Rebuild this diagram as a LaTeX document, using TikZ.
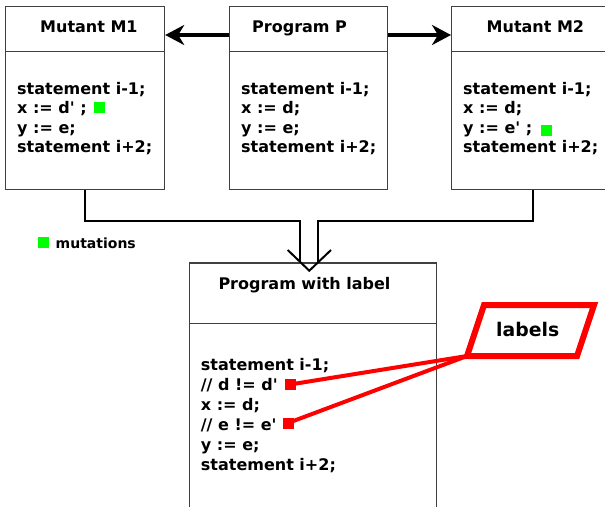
\documentclass[tikz,border=0pt]{standalone}
\usepackage{fontspec}
\newfontfamily\dv{DejaVu Sans}
\usetikzlibrary{arrows.meta}
\tikzset{
  box/.style={draw=black!75, line width=1.2pt, fill=white, rectangle, anchor=north west, inner sep=0pt},
  code/.style={font=\dv\bfseries\fontsize{16}{19}\selectfont, inner sep=0pt, anchor=base west},
  small/.style={font=\dv\bfseries\fontsize{14}{17}\selectfont, inner sep=0pt, anchor=base west},
  bigarrow/.style={line width=4.5pt, -{Stealth[length=19pt,width=20pt,inset=6pt]}},
  conn/.style={line width=2pt, black},
  mark/.style={}, 
  greensq/.style={fill=green, draw=none, minimum size=11pt, inner sep=0pt},
  redsq/.style={fill=red, draw=none, minimum size=11pt, inner sep=0pt},
  redline/.style={draw=red, line width=4pt},
}
\newcommand\codeln[4]{\node[code] (#1) at (#2,#3) {#4};}
\begin{document}
\begin{tikzpicture}[x=1pt,y=-1pt]
\useasboundingbox (0,0) rectangle (605,506);
% boxes
\node[box, minimum width=159pt, minimum height=183pt] (m1) at (5,6) {};
\node[box, minimum width=158pt, minimum height=183pt] (p) at (229,6) {};
\node[box, minimum width=162pt, minimum height=183pt] (m2) at (451,6) {};
\node[box, minimum width=247pt, minimum height=260pt] (out) at (189,262.3) {};
\draw[draw=black!75, line width=1.2pt] (5,51.5) -- (164,51.5);
\draw[draw=black!75, line width=1.2pt] (229,51.5) -- (387,51.5);
\draw[draw=black!75, line width=1.2pt] (451,51.5) -- (613,51.5);
\draw[draw=black!75, line width=1.2pt] (189,323.3) -- (436,323.3);
% titles
\codeln{t1}{40}{32}{Mutant M1}
\codeln{t2}{252}{32}{Program P}
\codeln{t3}{486.5}{32}{Mutant M2}
\codeln{t4}{218.3}{289.3}{Program with label}
% M1 code
\codeln{a1}{17}{94}{statement i-1;}
\codeln{a2}{17}{113.5}{x := d' ;}
\codeln{a3}{17}{133}{y := e;}
\codeln{a4}{17}{152.5}{statement i+2;}
% P code
\codeln{b1}{241}{94}{statement i-1;}
\codeln{b2}{241}{113.5}{x := d;}
\codeln{b3}{241}{133}{y := e;}
\codeln{b4}{241}{152.5}{statement i+2;}
% M2 code
\codeln{c1}{463}{94}{statement i-1;}
\codeln{c2}{463}{113.5}{x := d;}
\codeln{c3}{463}{133}{y := e' ;}
\codeln{c4}{463}{152.5}{statement i+2;}
% output code
\codeln{d1}{200.7}{370}{statement i-1;}
\codeln{d2}{200.7}{390}{// d != d'}
\codeln{d3}{200.7}{410}{x := d;}
\codeln{d4}{200.7}{430}{// e != e'}
\codeln{d5}{200.7}{450}{y := e;}
\codeln{d6}{200.7}{470.5}{statement i+2;}
% green marks
\node[greensq] (g1) at (99.2,107.9) {};
\node[greensq] (g2) at (546.5,130.5) {};
\node[greensq] (g3) at (43.6,242.6) {};
\node[small] (legend) at (55.5,248) {mutations};
% arrows
\draw[bigarrow] ([yshift=-29pt]p.north west) -- ([yshift=-29pt]m1.north east);
\draw[bigarrow] ([yshift=-29pt]p.north east) -- ([yshift=-29pt]m2.north west);
% merge connector
\coordinate (lv) at (300,262);
\coordinate (rv) at (318.3,262);
\coordinate (tip) at (309.3,270.7);
\coordinate (va) at (287.7,250);
\coordinate (vb) at (331,250);
\draw[conn] (m1.south) |- (300,220.7) -- (lv);
\draw[conn] (m2.south) |- (318.3,220.7) -- (rv);
\draw[conn] (va) -- (tip) -- (vb);
% labels parallelogram
\coordinate (L1) at (484,305);
\coordinate (L2) at (594,305);
\coordinate (L3) at (577,356);
\coordinate (lbl) at (467,356);
\draw[draw=red, line width=6pt, line join=miter, fill=white] (L1) -- (L2) -- (L3) -- (lbl) -- cycle;
\node[font=\dv\bfseries\fontsize{18.8}{22}\selectfont, inner sep=0pt, anchor=base west] (labtxt) at (496,336) {labels};
% red marks
\node[redsq] (r1) at (290,384.5) {};
\node[redsq] (r2) at (288,423) {};
\draw[redline] (lbl) -- (r1.center);
\draw[redline] (lbl) -- (r2.center);
\end{tikzpicture}
\end{document}
